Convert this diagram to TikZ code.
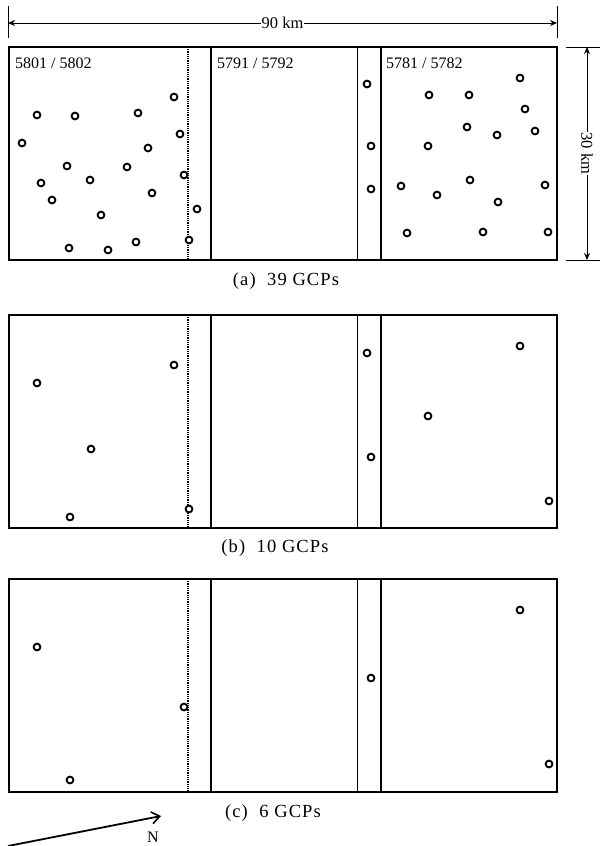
\documentclass[tikz,border=0pt]{standalone}
\usepackage{fontspec}
\setmainfont{Liberation Serif}
\usetikzlibrary{arrows.meta}
\newcommand\gcpframe[1]{%
  \begin{scope}[yshift=-#1pt]
    \draw[heavy] (9,0) -- (557,0);
    \draw[heavy] (9,213) -- (557,213);
    \draw[medium] (9,0) -- (9,213);
    \draw[medium] (557,0) -- (557,213);
    \draw[seam] (188,0) -- (188,213);
    \draw[heavy] (211,0) -- (211,213);
    \draw[light] (357,0) -- (357,213);
    \draw[heavy] (381,0) -- (381,213);
  \end{scope}}
\begin{document}
\begin{tikzpicture}[x=1pt,y=-1pt,
  gcp/.style={circle,draw,line width=1.9pt,minimum size=6.8pt,inner sep=0pt,fill=white},
  heavy/.style={line width=2.2pt,line cap=rect},
  medium/.style={line width=1.4pt},
  light/.style={line width=0.8pt},
  seam/.style={line width=1.3pt,dash pattern=on 1pt off 0.8pt},
  lbl/.style={font=\fontsize{16}{18}\selectfont,anchor=west,inner sep=0pt},
  captxt/.style={font=\fontsize{18.5}{20}\selectfont\addfontfeature{LetterSpace=6},inner sep=1pt},
  dim/.style={line width=0.9pt,{Stealth[length=7pt,width=6pt]}-{Stealth[length=7pt,width=6pt]}},
  tickline/.style={line width=0.9pt},
  dimtxt/.style={font=\fontsize{16.5}{18}\selectfont,fill=white,inner sep=0.5pt},
]
\useasboundingbox (0,0) rectangle (600,846);

% frames
\gcpframe{47}
\gcpframe{315}
\gcpframe{579}

% labels of scenes
\node[lbl] (s1) at (15,63.5) {5801 / 5802};
\node[lbl] (s2) at (217,63.5) {5791 / 5792};
\node[lbl] (s3) at (386,63.5) {5781 / 5782};

% horizontal dimension
\draw[tickline] (8,6) -- (8,38);
\draw[tickline] (557,6) -- (557,38);
\coordinate (hl) at (8,23);
\coordinate (hr) at (557,23);
\draw[dim] (hl) -- (hr) node[midway,dimtxt] (h90) {90 km};

% vertical dimension
\draw[tickline] (566,47) -- (600,47);
\draw[tickline] (566,260) -- (600,260);
\coordinate (vt) at (587,47);
\coordinate (vb) at (587,260);
\draw[dim] (vt) -- (vb) node[midway,dimtxt,rotate=-90] (v30) {30 km};

% GCPs (a)
\foreach \x/\y [count=\i] in {174/97,37/115,75/116,138/113,22/143,180/134,148/148,67/166,127/167,184/175,41/183,90/180,52/200,152/193,197/209,101/215,69/248,108/250,136/242,189/240,
367/84,371/146,371/189,
520/78,429/95,469/95,525/109,467/127,497/135,535/131,428/146,401/186,470/180,437/195,545/185,498/202,407/233,483/232,548/232}
  \node[gcp] (a\i) at (\x,\y) {};

% GCPs (b)
\foreach \x/\y [count=\i] in {37/383,174/365,91/449,70/517,189/509,367/353,371/457,428/416,520/346,549/501}
  \node[gcp] (b\i) at (\x,\y) {};

% GCPs (c)
\foreach \x/\y [count=\i] in {37/647,184/707,70/780,371/678,520/610,549/764}
  \node[gcp] (c\i) at (\x,\y) {};

% captions
\node[captxt] (capa) at (286,281) {(a)\ \ 39 GCPs};
\node[captxt] (capb) at (275,548) {(b)\ \ 10 GCPs};
\node[captxt] (capc) at (273,813) {(c)\ \ 6 GCPs};

% north arrow
\coordinate (ns) at (8,846);
\coordinate (ne) at (161,816);
\draw[line width=1.8pt,-{Straight Barb[length=8pt,width=12pt,line width=1.6pt]}] (ns) -- (ne);
\node[font=\fontsize{16}{18}\selectfont,inner sep=0pt] (north) at (153,837) {N};
\end{tikzpicture}
\end{document}
